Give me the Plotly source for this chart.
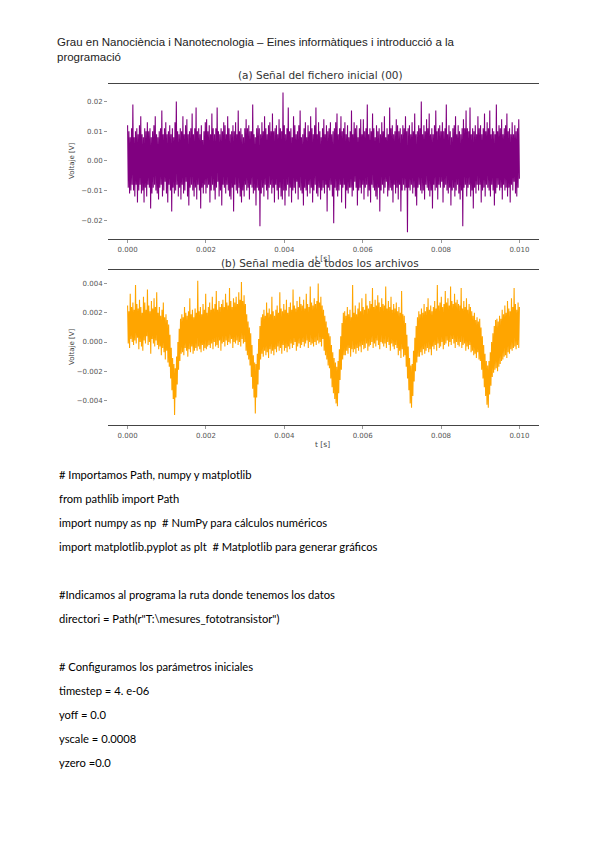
import numpy as np
import plotly.graph_objects as go

# ---------------- data ----------------
T_END = 0.010  # s, time of the last sample

# (a) signal of the first file (00), in mV
volt_a_mV = [
    12, -9, 10, -11, 8, -10, 11, -8, 19, -10, 8, -12, 10, -8, 11, -14, 9, -10, 12,
    -8, 15, -11, 9, -10, 8, -14, 11, -9, 10, -12, 13, -8, 10, -9, 11, -16, 8, -11, 10,
    -9, 12, -8, 15, -10, 9, -11, 8, -13, 10, -9, 11, -8, 17, -12, 9, -10, 11, -7, 13,
    -11, 9, -14, 10, -8, 12, -10, 9, -17, 11, -9, 8, -11, 13, -10, 20, -8, 10, -12, 9,
    -9, 11, -13, 10, -8, 15, -11, 9, -10, 12, -7, 14, -12, 9, -15, 10, -9, 11, -8, 16,
    -10, 9, -12, 11, -9, 18, -13, 10, -8, 11, -10, 9, -16, 12, -9, 7, -11, 10, -8, 13,
    -11, 14, -9, 10, -8, 12, -14, 9, -10, 16, -8, 11, -10, 9, -13, 11, -9, 18, -7, 10,
    -12, 9, -10, 11, -15, 10, -8, 13, -9, 12, -11, 9, -8, 15, -10, 11, -12, 9, -13, 10,
    -9, 12, -17, 10, -8, 13, -10, 9, -11, 17, -9, 10, -12, 11, -14, 9, -10, 8, -12, 11,
    -8, 14, -10, 11, -9, 12, -13, 10, -8, 10, -9, 19, -11, 9, -10, 8, -15, 11, -9, 12,
    -10, 11, -22, 9, -11, 13, -9, 10, -12, 15, -8, 11, -10, 9, -13, 12, -9, 13, -8, 10,
    -11, 16, -9, 10, -14, 11, -8, 12, -10, 9, -13, 14, -9, 11, -12, 10, -13, 23, -10,
    12, -15, 9, -10, 11, -8, 18, -12, 10, -9, 11, -14, 8, -10, 15, -9, 12, -11, 9, -7,
    10, -13, 12, -9, 17, -10, 8, -11, 9, -15, 11, -9, 13, -10, 8, -12, 12, -8, 10, -11,
    15, -9, 11, -14, 9, -10, 12, -8, 18, -11, 9, -12, 13, -9, 10, -13, 8, -10, 11, -9,
    14, -11, 9, -8, 12, -17, 10, -9, 11, -10, 13, -8, 9, -12, 10, -21, 11, -9, 13, -10,
    16, -12, 9, -10, 11, -8, 15, -14, 10, -9, 11, -8, 13, -16, 9, -10, 12, -11, 8, -9,
    10, -9, 17, -12, 9, -10, 13, -7, 11, -9, 12, -15, 8, -10, 11, -9, 14, -11, 9, -8,
    14, -13, 10, -9, 11, -8, 19, -12, 9, -10, 11, -14, 10, -8, 16, -9, 11, -10, 8, -12,
    12, -13, 10, -9, 11, -17, 9, -10, 13, -8, 10, -11, 15, -9, 8, -7, 11, -12, 9, -10,
    18, -9, 11, -10, 12, -14, 9, -8, 10, -11, 14, -9, 12, -13, 10, -8, 11, -17, 9, -10,
    12, -8, 11, -10, 15, -9, 10, -24, 11, -9, 12, -10, 9, -8, 13, -11, 10, -9, 16, -12,
    9, -15, 10, -9, 12, -8, 11, -10, 20, -11, 9, -10, 12, -13, 10, -8, 14, -9, 11, -10,
    16, -12, 9, -10, 11, -16, 9, -8, 12, -10, 17, -9, 10, -13, 11, -8, 12, -9, 10, -7,
    13, -14, 10, -9, 11, -8, 19, -10, 9, -11, 12, -9, 10, -15, 8, -10, 11, -9, 12, -12,
    15, -10, 9, -8, 12, -11, 10, -13, 9, -10, 11, -22, 14, -9, 11, -8, 17, -12,
    11, -9, 10, -8, 18, -12, 9, -10, 11, -16, 10, -9, 12, -11, 9, -8, 15, -10, 11, -8,
    12, -14, 9, -10, 11, -9, 16, -12, 10, -8, 13, -9, 11, -10, 17, -12, 9, -8, 11, -10,
    10, -15, 9, -11, 19, -9, 10, -8, 12, -10, 11, -9, 14, -13, 9, -8, 11, -10, 12, -9,
    16, -12, 10, -9, 11, -14, 9, -8, 13, -10, 9, -7, 12, -11, 10, -12, 11, -9, 14, -6,
]

# (b) mean signal of all files, in units of 0.1 mV
volt_b_01mV = [
    25, -1, 21, -4, 33, 2, 24, 0, 27, -2, 22, 1, 39, -1, 26, 3, 23, -5, 29, 0,
    24, -3, 20, -6, 31, 1, 27, -1, 22, 4, 36, -2, 25, 0, 21, -8, 28, 2, 23, -1,
    30, -3, 24, 1, 34, -2,
    20, -5, 24, -3, 18, -9, 22, -4, 27, -7, 17, -12, 19, -6, 15, -14,
    12, -17, 5, -25, -4, -33, -11, -39, -15, -50, -18, -38, -10, -29, 0, -19, 9, -13, 16, -8,
    19, -7, 17, -9, 24, -4, 20, -6, 18, -10, 21, -5, 30, -7, 19, -3, 22, -8, 17, -6,
    23, -4, 20, -6, 42, -3, 21, -5, 24, -7, 19, -2, 26, -6, 22, -4, 33, -5, 20, -3,
    24, -2, 27, -4, 22, -1, 31, -5, 23, 0, 26, -3, 35, -2, 22, -4, 28, 1, 24, -6,
    26, -1, 29, 0, 24, -3, 33, 1, 27, -2, 25, 0, 37, -1, 28, 2, 24, -4, 30, 0,
    27, -1, 31, 1, 26, -2, 34, 0, 29, -3, 41, 2, 28, -1, 32, 0, 26,
    -6, 19, -9, 14, -12, 10, -16,
    6, -24, -2, -32, -9, -38, -14, -49, -15, -38, -8, -29, 2, -19, 11, -12, 17,
    -8, 19, -10, 22, -6, 18, -9, 27, -7, 20, -11, 23, -5, 19, -8, 31, -6, 21, -9, 18,
    -5, 22, -7, 25, -3, 20, -6, 34, -4, 23, -8, 21, -2, 26, -6, 22, -4, 29, -7, 20,
    -3, 24, -5, 27, -1, 22, -4, 36, -2, 25, 0, 23, -6, 28, -3, 24, -1, 31, -4, 26,
    -2, 25, 0, 29, -3, 23, -1, 33, 1, 26, -4, 24, 0, 38, -2, 27, -1, 25, -3, 30,
    0, 26, -2, 28, 1, 40, -1, 27, 0, 31, -3, 25, 2,
    22, -6, 18, -9, 14, -12, 10, -16, 6, -18,
    4, -25, -2, -31, -7, -35, -11, -39, -14, -42, -17, -44, -13, -35, -5, -26, 4, -19, 13,
    -12, 20, -9,
    21, -9, 18, -6, 24, -8, 19, -4, 22, -10, 17, -5, 39, -7, 20, -5, 25, -8, 19,
    -4, 23, -6, 27, -3, 21, -7, 30, -2, 24, -5, 22, -4, 33, -1, 25, -6, 23, -3, 28,
    -2, 26, 0, 37, -4, 24, -1, 29, -3, 25, 1, 32, -2, 27, -5, 24, 0, 30, -1, 26,
    -3, 25, -1, 38, -4, 23, 0, 28, -2, 24, -6, 31, -1, 22, -3, 26, -5, 23, -2, 27,
    -4, 21, -9, 24, -6, 20, -11, 35, -5, 19, -10, 18,
    -9, 13, -17, 5, -25, -3, -33, -11, -42, -16, -45, -15, -37, -6, -27, 3, -20, 11, -14, 17,
    -10, 21,
    -10, 19, -7, 23, -9, 20, -5, 26, -8, 21, -6, 24, -4, 30, -7, 22, -5, 25, -9, 21,
    -3, 24, -5, 28, -2, 23, -6, 39, -1, 25, -4, 27, -3, 31, 0, 24, -5, 26, -2, 35,
    -1, 27, 1, 30, -3, 25, 0, 38, -2, 28, 2, 26, -1, 33, -4, 27, 0, 29, -2, 26,
    -3, 25, 0, 37, -4, 23, -2, 28, -1, 24, -6, 30, -3, 22, -5, 26, -2, 24, -7, 21,
    -6, 18, -9, 20, -8, 15, -11, 17, -7, 14, -12,
    16, -13, 10, -19, 4, -25, -2, -31, -8, -37, -13, -43, -16, -45, -13, -36, -7, -30, 0, -24,
    6, -21, 11, -19, 15, -18, 16,
    -20, 14, -17, 18, -15, 16, -13, 22, -12, 19, -10, 25, -9, 20, -11, 28, -7, 23, -8, 21,
    -5, 30, -6, 24, -4, 37, -3, 26, -5, 22, -2, 27, -4, 24,
]

x_ticks = [0.000, 0.002, 0.004, 0.006, 0.008, 0.010]
ya_ticks = [-0.02, -0.01, 0.00, 0.01, 0.02]
yb_ticks = [-0.004, -0.002, 0.000, 0.002, 0.004]

header_lines = [
    "Grau en Nanociència i Nanotecnologia – Eines informàtiques i introducció a la",
    "programació",
]
title_a = "(a) Señal del fichero inicial (00)"
title_b = "(b) Señal media de todos los archivos"
xlabel = "t [s]"
ylabel = "Voltaje [V]"

code_lines = [
    ("# Importamos Path, numpy y matplotlib", 474),
    ("from pathlib import Path", 498),
    ("import numpy as np  # NumPy para cálculos numéricos", 522),
    ("import matplotlib.pyplot as plt  # Matplotlib para generar gráficos", 546),
    ("#Indicamos al programa la ruta donde tenemos los datos", 594),
    ('directori = Path(r"T:\\mesures_fototransistor")', 618),
    ("# Configuramos los parámetros iniciales", 666),
    ("timestep = 4. e-06", 690),
    ("yoff = 0.0", 714),
    ("yscale = 0.0008", 738),
    ("yzero =0.0", 762),
]

# ---------------- figure ----------------
W, H = 600, 848
def px(x):
    return x / W
def py(y):
    return 1 - y / H

t_a = np.linspace(0, T_END, len(volt_a_mV))
t_b = np.linspace(0, T_END, len(volt_b_01mV))

fig = go.Figure()
fig.add_trace(go.Scatter(x=t_a, y=np.array(volt_a_mV) / 1000.0, mode="lines",
                         line=dict(color="#800080", width=1.1), xaxis="x", yaxis="y",
                         hoverinfo="skip"))
fig.add_trace(go.Scatter(x=t_b, y=np.array(volt_b_01mV) / 10000.0, mode="lines",
                         line=dict(color="#FFA500", width=1.1), xaxis="x2", yaxis="y2",
                         hoverinfo="skip"))

tickfont = dict(family="DejaVu Sans", size=7, color="#555")
xcommon = dict(range=[-0.0005, 0.0105], tickvals=x_ticks, tickformat=".3f",
               showline=True, mirror=True, linecolor="#444", linewidth=1.2,
               ticks="outside", ticklen=3, tickcolor="#999", tickwidth=0.8,
               tickfont=tickfont, showgrid=False, zeroline=False)
ycommon = dict(showline=False, ticks="outside", ticklen=3, tickcolor="#999", tickwidth=0.8,
               tickfont=tickfont, showgrid=False, zeroline=False)

fig.update_layout(
    width=W, height=H, margin=dict(l=0, r=0, t=0, b=0),
    paper_bgcolor="white", plot_bgcolor="white", showlegend=False,
    xaxis=dict(domain=[px(108), px(539)], anchor="y", **xcommon),
    yaxis=dict(domain=[py(239), py(84)], anchor="x", range=[-0.0263, 0.0259],
               tickvals=ya_ticks, tickformat=".2f", **ycommon),
    xaxis2=dict(domain=[px(108), px(539)], anchor="y2", **xcommon),
    yaxis2=dict(domain=[py(425), py(270)], anchor="x2", range=[-0.00568, 0.00493],
                tickvals=yb_ticks, tickformat=".3f", **ycommon),
)

ann = []
for i, line in enumerate(header_lines):
    ann.append(dict(text=line, x=px(55), y=py(42 + 15 * i), xref="paper", yref="paper",
                    xanchor="left", yanchor="middle", showarrow=False,
                    font=dict(family="Liberation Sans", size=11.5, color="#222")))
for txt, yy in [(title_a, 75), (title_b, 263)]:
    ann.append(dict(text=txt, x=px(320), y=py(yy), xref="paper", yref="paper",
                    xanchor="center", yanchor="middle", showarrow=False,
                    font=dict(family="DejaVu Sans", size=10.5, color="#333")))
for yy in [258, 444]:
    ann.append(dict(text=xlabel, x=px(322), y=py(yy), xref="paper", yref="paper",
                    xanchor="center", yanchor="middle", showarrow=False,
                    font=dict(family="DejaVu Sans", size=7.5, color="#444")))
for yy in [161, 347]:
    ann.append(dict(text=ylabel, x=px(72), y=py(yy), xref="paper", yref="paper",
                    xanchor="center", yanchor="middle", showarrow=False, textangle=-90,
                    font=dict(family="DejaVu Sans", size=7, color="#444")))
for txt, yy in code_lines:
    ann.append(dict(text=txt, x=px(57), y=py(yy), xref="paper", yref="paper",
                    xanchor="left", yanchor="middle", showarrow=False,
                    font=dict(family="Lato", size=11.2, color="#000")))

fig.update_layout(annotations=ann)
fig.write_html("out.html", config={"displayModeBar": False},
               post_script="document.body.style.margin='0px';document.body.style.overflow='hidden';")
